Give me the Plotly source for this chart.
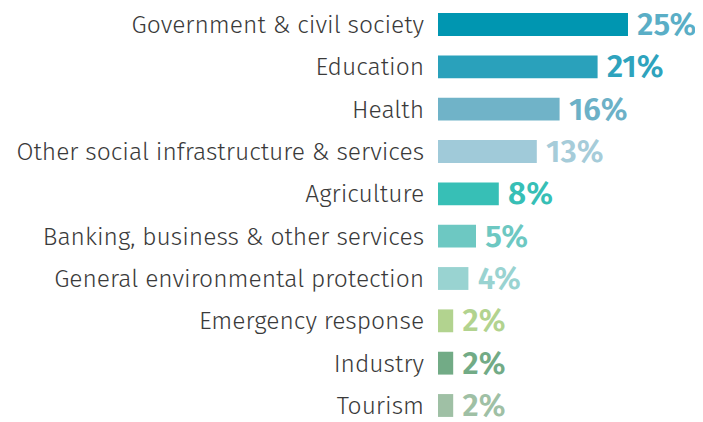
import plotly.graph_objects as go

categories = [
    "Government & civil society",
    "Education",
    "Health",
    "Other social infrastructure & services",
    "Agriculture",
    "Banking, business & other services",
    "General environmental protection",
    "Emergency response",
    "Industry",
    "Tourism",
]
values = [25, 21, 16, 13, 8, 5, 4, 2, 2, 2]
bar_colors = ["#0096b1", "#2aa1bb", "#70b3c8", "#a0cad9", "#37bfb6",
              "#6dc8c2", "#99d3d1", "#b2d38f", "#72ab86", "#9fc0a5"]
label_colors = ["#5aaec6", "#2ea3bd", "#6cb1c7", "#a6ccd9", "#37bfb6",
                "#6dc8c2", "#99d3d1", "#b2d38f", "#72ab86", "#9fc0a5"]

fig = go.Figure(go.Bar(
    x=values,
    y=categories,
    orientation="h",
    marker=dict(color=bar_colors, line=dict(width=0)),
    width=0.54,
    text=[f"\u2009{v}%" for v in values],
    textposition="outside",
    constraintext="none",
    textfont=dict(family="Fira Sans, Open Sans, sans-serif", size=31.5,
                  color=label_colors, weight=600),
    cliponaxis=False,
))

fig.update_layout(
    width=695, height=414,
    margin=dict(l=430, r=0, t=0, b=0),
    paper_bgcolor="white", plot_bgcolor="white",
    showlegend=False,
    xaxis=dict(range=[0, 34.87], visible=False, fixedrange=True),
    yaxis=dict(
        range=[9.39, -0.39],
        ticks="outside", ticklen=8, tickcolor="rgba(0,0,0,0)",
        showgrid=False, zeroline=False, showline=False,
        automargin=False,
        tickfont=dict(family="Fira Sans, Open Sans, sans-serif", size=24.6,
                      color="#3a3a3a", weight=300),
    ),
)

fig.write_html("out.html")
